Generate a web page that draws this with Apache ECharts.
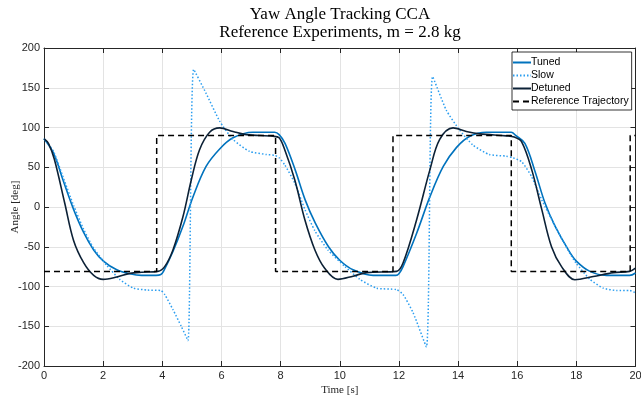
<!DOCTYPE html>
<html>
<head>
<meta charset="utf-8">
<script src="https://cdn.jsdelivr.net/npm/echarts@6/dist/echarts.min.js"></script>
<style>
  html, body { margin: 0; padding: 0; background: #fff; }
  #chart { width: 641px; height: 396px; }
</style>
</head>
<body>
<div id="chart"></div>
<script>
// Yaw angle [deg] against time [s] for each controller setting
const tuned = [
  [0, 86], [0.32, 68], [0.66, 32], [1.0, -3], [1.34, -32], [1.68, -54], [2.01, -68],
  [2.46, -79], [2.9, -84], [3.3, -86], [3.79, -86], [3.95, -85], [4.04, -81],
  [4.36, -56], [4.7, -24], [5.04, 13], [5.48, 51], [5.94, 73], [6.39, 87],
  [7.06, 94], [7.8, 94], [7.95, 91], [8.15, 80], [8.49, 47], [8.83, 9], [9.17, -20],
  [9.62, -50], [10.0, -67], [10.45, -79], [11.13, -86], [11.9, -86], [12.0, -84],
  [12.14, -75], [12.6, -33], [13.05, 13], [13.5, 51], [13.95, 75], [14.4, 89],
  [14.96, 94], [15.8, 94], [15.95, 90], [16.26, 80], [16.6, 45], [16.94, 5],
  [17.28, -24], [17.73, -54], [18.0, -68], [18.46, -81], [19.02, -86], [19.8, -86],
  [20, -83]
];

const slow = [
  [0, 86], [0.32, 70], [0.66, 36], [1.0, 2], [1.34, -28], [1.68, -52], [2.01, -68],
  [2.11, -73], [2.56, -91], [3.02, -102], [3.5, -104.5], [3.95, -105], [4.08, -110],
  [4.36, -129], [4.64, -150], [4.87, -168], [5.06, 173], [5.48, 143], [5.94, 108],
  [6.39, 85], [6.95, 70], [7.52, 66], [7.8, 65], [7.95, 62], [8.14, 53], [8.48, 30],
  [8.82, -3], [9.16, -30], [9.6, -54], [10.18, -75], [10.68, -91], [11.24, -102],
  [11.92, -104], [12.14, -110], [12.48, -133], [12.93, -176], [13.14, 164],
  [13.6, 122], [14.05, 97], [14.5, 78], [15.06, 66], [15.63, 64], [15.85, 62],
  [16.15, 57], [16.49, 38], [16.83, 9], [17.28, -24], [17.73, -55], [18.0, -71],
  [18.46, -91], [18.91, -102], [19.36, -105], [19.8, -105], [20, -108]
];

const detuned = [
  [0, 86], [0.15, 80], [0.35, 60], [0.7, 5], [1.0, -42], [1.34, -70], [1.68, -86],
  [2.0, -91], [2.46, -88], [2.9, -83.5], [3.3, -82], [3.85, -81], [4.08, -75],
  [4.36, -54], [4.7, -12], [4.98, 34], [5.26, 72], [5.6, 94], [5.94, 99.5],
  [6.39, 95], [6.84, 91], [7.74, 89], [7.95, 87], [8.14, 72], [8.48, 34],
  [8.82, -16], [9.16, -54], [9.49, -77], [9.94, -91], [10.45, -87], [10.9, -82.5],
  [11.92, -81], [12.14, -70.5], [12.6, -16], [13.05, 47], [13.38, 85], [13.83, 99.5],
  [14.28, 95], [14.73, 92], [15.63, 89.5], [15.9, 88], [16.15, 82], [16.49, 47],
  [16.83, -3], [17.16, -50], [17.5, -75], [17.95, -91.5], [18.57, -87.5],
  [19.25, -82.5], [19.8, -81], [20, -77]
];

// Square-wave set point: value holds from each switching time onwards
const referenceSteps = [
  [0, -81], [3.81, 90], [7.83, -81], [11.8, 90], [15.8, -81], [19.82, 90], [20, 90]
];

const xTicks = { min: 0, max: 20, step: 2 };
const yTicks = { min: -200, max: 200, step: 50 };

const seriesNames = ['Tuned', 'Slow', 'Detuned', 'Reference Trajectory'];

const axisColor = '#262626';
const sansFont = '"Liberation Sans", Arial, sans-serif';
const serifFont = '"Liberation Serif", "DejaVu Serif", serif';

const chart = echarts.init(document.getElementById('chart'), null, { renderer: 'canvas' });

// Unlabelled top and right edges that close the plot box
const boxAxis = {
  axisLine: { show: true, onZero: false, lineStyle: { color: axisColor, width: 1 } },
  axisTick: { show: true, inside: true, length: 5, lineStyle: { color: axisColor } },
  axisLabel: { show: false },
  splitLine: { show: false }
};

chart.setOption({
  animation: false,
  backgroundColor: '#fff',
  grid: {
    left: 44, right: 5.5, top: 48, bottom: 30,
    containLabel: false, outerBoundsMode: 'none'
  },
  graphic: [
    {
      type: 'text', x: 340, y: 15,
      style: {
        text: 'Yaw Angle Tracking CCA', fill: '#000',
        font: '17px ' + serifFont, textAlign: 'center', textVerticalAlign: 'middle'
      }
    },
    {
      type: 'text', x: 340, y: 33,
      style: {
        text: 'Reference Experiments, m = 2.8 kg', fill: '#000',
        font: '17px ' + serifFont, textAlign: 'center', textVerticalAlign: 'middle'
      }
    }
  ],
  legend: {
    data: seriesNames,
    orient: 'vertical',
    left: 512,
    top: 52,
    itemWidth: 18,
    itemHeight: 10,
    itemGap: 2,
    padding: [5, 3, 3, 0],
    backgroundColor: '#fff',
    borderColor: '#000',
    borderWidth: 0.8,
    borderRadius: 0,
    itemStyle: { opacity: 0 },
    textStyle: { fontFamily: sansFont, fontSize: 10.5, color: '#000', padding: [0, 0, 0, -5] }
  },
  xAxis: [
    {
      type: 'value', min: xTicks.min, max: xTicks.max, interval: xTicks.step,
      name: 'Time [s]', nameLocation: 'middle', nameGap: 19, nameMoveOverlap: false,
      nameTextStyle: { fontFamily: serifFont, fontSize: 11, color: axisColor },
      axisLine: { show: true, onZero: false, lineStyle: { color: axisColor, width: 1 } },
      axisTick: { show: true, inside: true, length: 5, lineStyle: { color: axisColor } },
      axisLabel: { fontFamily: sansFont, fontSize: 11, color: axisColor, margin: 4 },
      splitLine: { show: true, lineStyle: { color: '#e3e3e3', width: 1 } }
    },
    Object.assign({
      type: 'value', position: 'top', min: xTicks.min, max: xTicks.max, interval: xTicks.step
    }, boxAxis)
  ],
  yAxis: [
    {
      type: 'value', min: yTicks.min, max: yTicks.max, interval: yTicks.step,
      name: 'Angle [deg]', nameLocation: 'middle', nameGap: 23, nameRotate: 90,
      nameMoveOverlap: false,
      nameTextStyle: { fontFamily: serifFont, fontSize: 11, color: axisColor },
      axisLine: { show: true, onZero: false, lineStyle: { color: axisColor, width: 1 } },
      axisTick: { show: true, inside: true, length: 5, lineStyle: { color: axisColor } },
      axisLabel: { fontFamily: sansFont, fontSize: 11, color: axisColor, margin: 4 },
      splitLine: { show: true, lineStyle: { color: '#e3e3e3', width: 1 } }
    },
    Object.assign({
      type: 'value', position: 'right', min: yTicks.min, max: yTicks.max, interval: yTicks.step
    }, boxAxis)
  ],
  series: [
    {
      name: seriesNames[0], type: 'line', data: tuned, symbol: 'none',
      smooth: 0.35,
      lineStyle: { color: '#0072BD', width: 1.6 }, itemStyle: { color: '#0072BD' }
    },
    {
      name: seriesNames[1], type: 'line', data: slow, symbol: 'none',
      smooth: 0.2,
      lineStyle: { color: '#2b9ef0', width: 1.5, type: [1.5, 2] }, itemStyle: { color: '#2b9ef0' }
    },
    {
      name: seriesNames[2], type: 'line', data: detuned, symbol: 'none',
      smooth: 0.35,
      lineStyle: { color: '#0c2136', width: 1.6 }, itemStyle: { color: '#0c2136' }
    },
    {
      name: seriesNames[3], type: 'line', data: referenceSteps, symbol: 'none',
      step: 'end',
      lineStyle: { color: '#000', width: 1.5, type: [6, 4] }, itemStyle: { color: '#000' }
    }
  ]
});
</script>
</body>
</html>
